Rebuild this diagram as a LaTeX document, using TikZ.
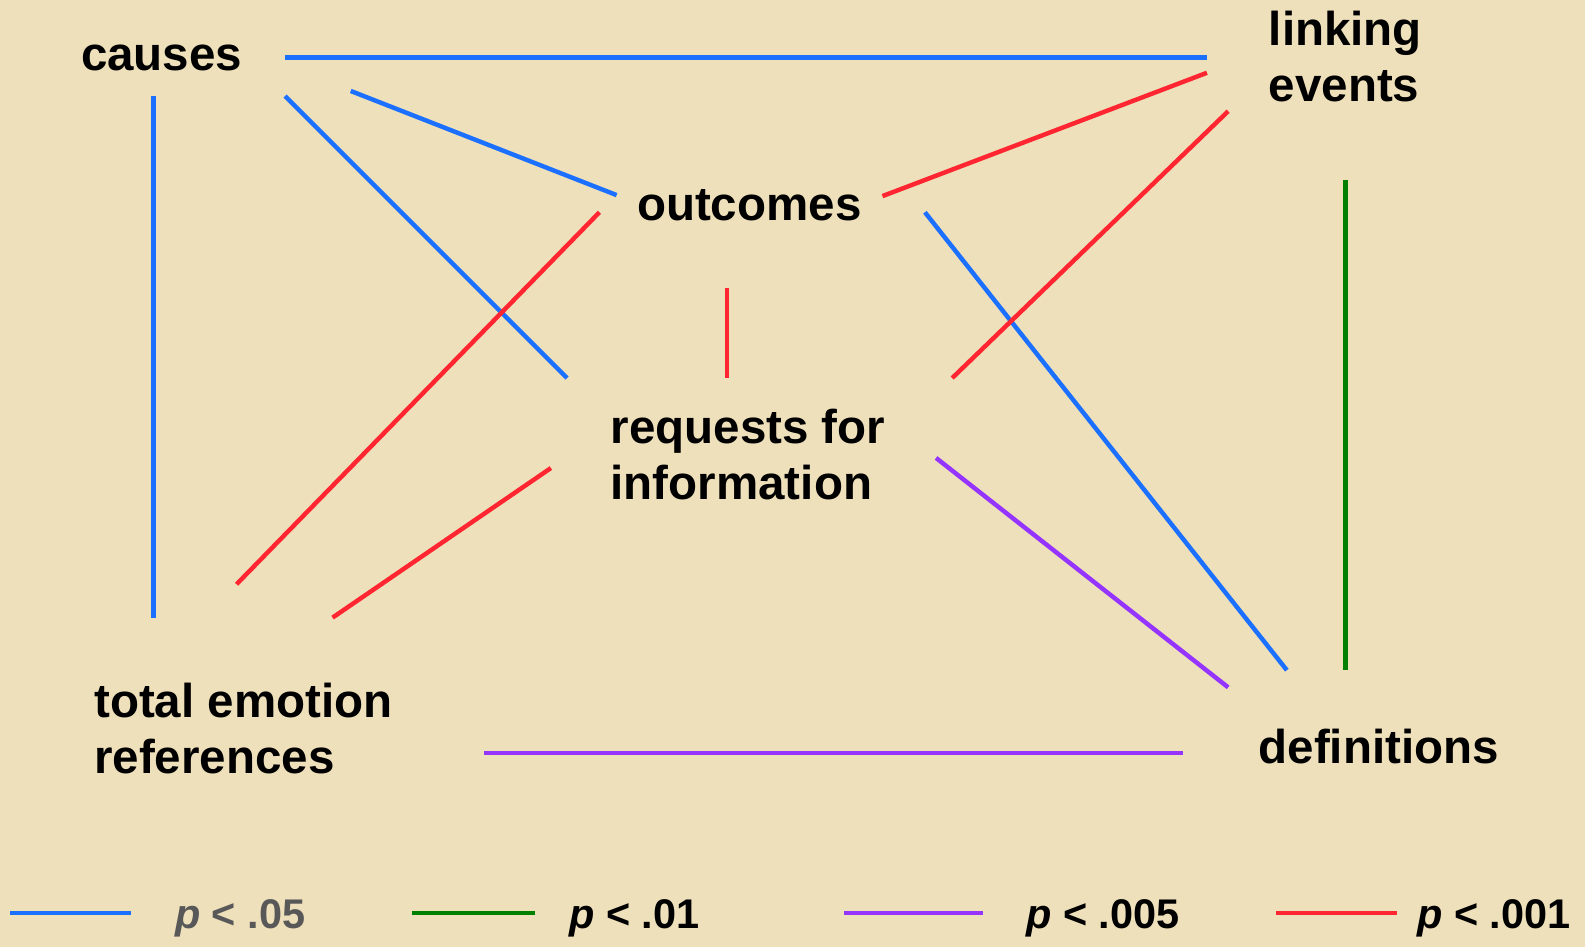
\documentclass[tikz,border=0pt]{standalone}
\usepackage{fontspec}
\setmainfont{Liberation Sans}
\definecolor{bg}{RGB}{238,224,186}
\definecolor{cblue}{RGB}{28,112,255}
\definecolor{cred}{RGB}{255,38,50}
\definecolor{cpurple}{RGB}{150,52,255}
\definecolor{cgreen}{RGB}{0,128,0}
\definecolor{cgray}{RGB}{88,88,88}
\begin{document}
\begin{tikzpicture}[x=1pt,y=-1pt,
  lbl/.style={anchor=base west,inner sep=0pt,align=left,font=\fontsize{47}{55}\selectfont\bfseries},
  leg/.style={anchor=base west,inner sep=0pt,font=\fontsize{41}{48}\selectfont\bfseries},
  link/.style={line width=4.4pt},
  pb/.style={link,cblue},
  pr/.style={link,cred},
  pp/.style={link,cpurple},
  pg/.style={link,cgreen}]
\fill[bg] (0,0) rectangle (1568,937);
\useasboundingbox (0,0) rectangle (1568,937);
% labels (base anchor = baseline of last line)
\node[lbl] (causes) at (80,70) {causes};
\node[lbl] (linking) at (1255,100) {linking\\events};
\node[lbl] (outcomes) at (630,218) {outcomes};
\node[lbl] (requests) at (604,494) {requests for\\information};
\node[lbl] (total) at (93,765) {total emotion\\references};
\node[lbl] (defs) at (1245,755) {definitions};
% endpoints
\coordinate (a1) at (282,57);  \coordinate (a2) at (1194,57);
\coordinate (b1) at (152,95);  \coordinate (b2) at (152,611);
\coordinate (c1) at (282,95);  \coordinate (c2) at (561,374);
\coordinate (d1) at (347,90);  \coordinate (d2) at (610,193);
\coordinate (e1) at (915,210); \coordinate (e2) at (1273,663);
\coordinate (f1) at (873,194); \coordinate (f2) at (1194,72);
\coordinate (g1) at (1215,110);\coordinate (g2) at (942,374);
\coordinate (h1) at (593,210); \coordinate (h2) at (234,578);
\coordinate (i1) at (719,285); \coordinate (i2) at (719,374);
\coordinate (j1) at (545,463); \coordinate (j2) at (329,611);
\coordinate (k1) at (926,453); \coordinate (k2) at (1215,680);
\coordinate (l1) at (479,745); \coordinate (l2) at (1170,745);
\coordinate (m1) at (1331,178);\coordinate (m2) at (1331,663);
% connectors
\draw[pb] (a1) -- (a2);
\draw[pb] (b1) -- (b2);
\draw[pb] (c1) -- (c2);
\draw[pb] (d1) -- (d2);
\draw[pb] (e1) -- (e2);
\draw[pr] (f1) -- (f2);
\draw[pr] (g1) -- (g2);
\draw[pr] (h1) -- (h2);
\draw[pr] (i1) -- (i2);
\draw[pr] (j1) -- (j2);
\draw[pp] (k1) -- (k2);
\draw[pp] (l1) -- (l2);
\draw[pg] (m1) -- (m2);
% legend
\coordinate (lb1) at (10,903);  \coordinate (lb2) at (130,903);
\coordinate (lg1) at (408,903); \coordinate (lg2) at (529,903);
\coordinate (lp1) at (835,903); \coordinate (lp2) at (972,903);
\coordinate (lr1) at (1262,903);\coordinate (lr2) at (1382,903);
\draw[pb] (lb1) -- (lb2);
\draw[pg] (lg1) -- (lg2);
\draw[pp] (lp1) -- (lp2);
\draw[pr] (lr1) -- (lr2);
\node[leg,text=cgray] (t05) at (173,919) {\textit{p} < .05};
\node[leg] (t01) at (563,919) {\textit{p} < .01};
\node[leg] (t005) at (1015,919) {\textit{p} < .005};
\node[leg] (t001) at (1402,919) {\textit{p} < .001};
\end{tikzpicture}
\end{document}
